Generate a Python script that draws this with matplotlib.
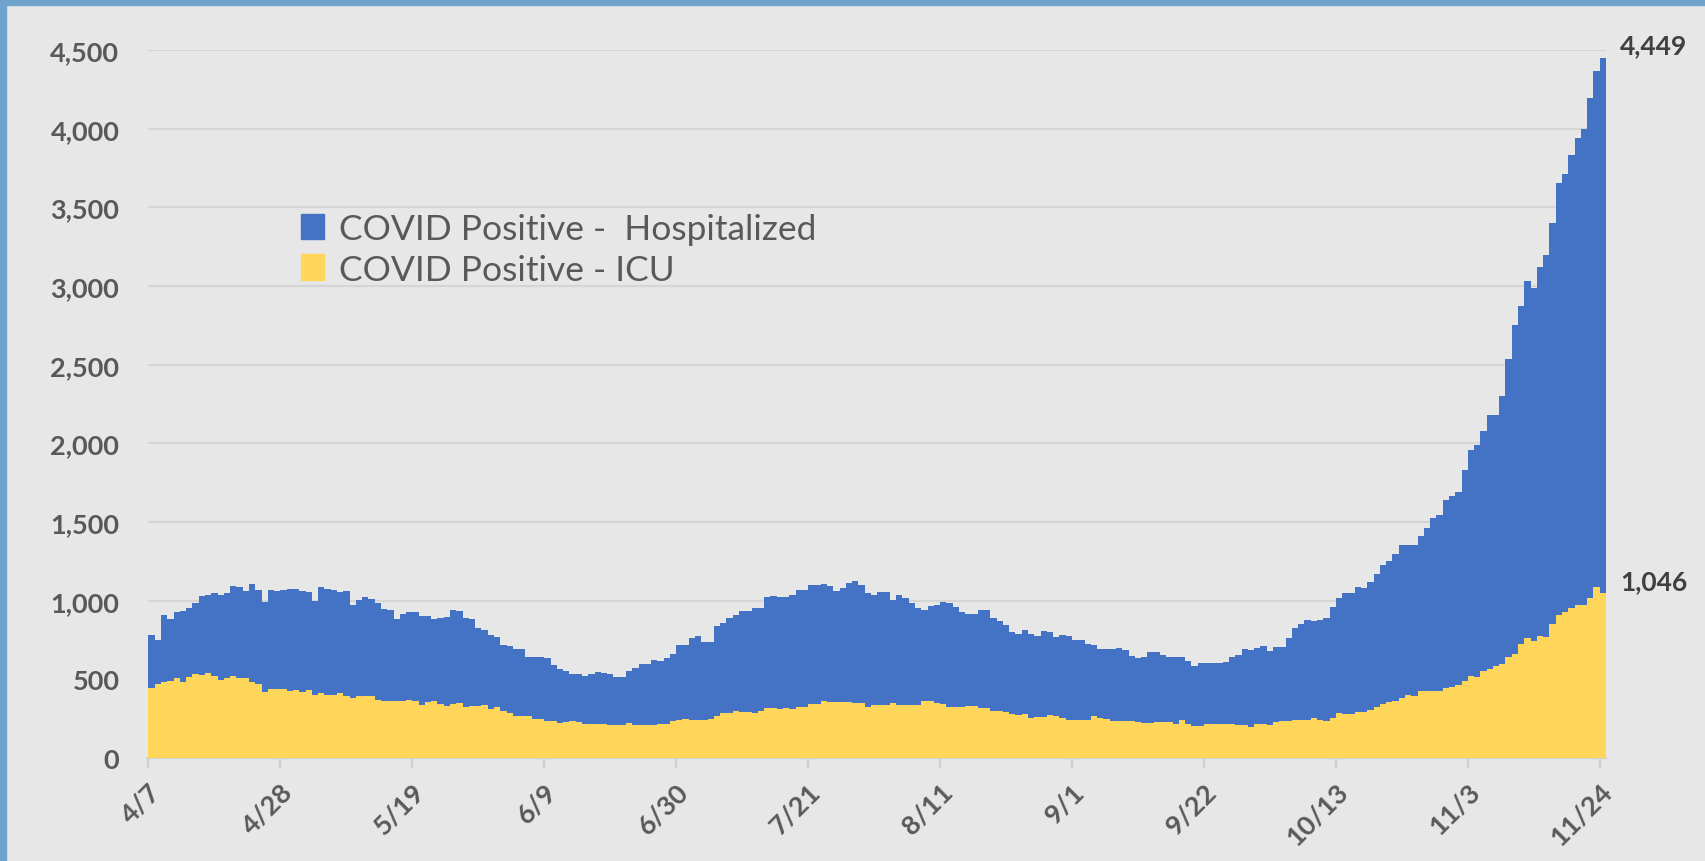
import matplotlib.pyplot as plt
from matplotlib.patches import Patch, Rectangle
from matplotlib.ticker import FuncFormatter
import numpy as np

plt.rcParams['font.family'] = ['Lato', 'DejaVu Sans']

# daily values, 4/7 .. 11/24
hospitalized = [
    779, 752, 911, 881, 926, 932, 955, 985, 1030, 1038,
    1049, 1036, 1047, 1091, 1087, 1062, 1106, 1068, 994, 1068,
    1064, 1068, 1072, 1076, 1064, 1053, 996, 1085, 1076, 1070,
    1055, 1059, 972, 1006, 1021, 1008, 985, 949, 940, 881,
    913, 928, 928, 902, 902, 883, 890, 896, 941, 932,
    890, 881, 826, 811, 783, 766, 720, 711, 690, 690,
    643, 639, 645, 635, 592, 563, 554, 533, 533, 520,
    533, 546, 539, 537, 516, 516, 554, 571, 599, 599,
    622, 618, 635, 664, 720, 720, 764, 773, 737, 737,
    839, 858, 892, 911, 932, 932, 955, 955, 1023, 1030,
    1023, 1023, 1034, 1068, 1068, 1100, 1100, 1106, 1093, 1064,
    1081, 1113, 1125, 1102, 1049, 1036, 1053, 1053, 1002, 1038,
    1017, 987, 955, 943, 966, 974, 991, 987, 960, 928,
    913, 913, 938, 938, 892, 871, 847, 800, 786, 811,
    788, 775, 805, 798, 771, 781, 775, 752, 752, 726,
    716, 690, 690, 690, 696, 688, 650, 635, 641, 673,
    673, 652, 639, 639, 643, 618, 584, 601, 601, 601,
    601, 612, 639, 654, 692, 685, 702, 713, 677, 706,
    706, 765, 828, 849, 876, 868, 874, 891, 960, 1017,
    1051, 1046, 1086, 1080, 1116, 1170, 1229, 1252, 1298, 1353,
    1353, 1353, 1412, 1464, 1527, 1542, 1637, 1666, 1689, 1832,
    1958, 1991, 2078, 2177, 2183, 2300, 2534, 2752, 2873, 3032,
    2990, 3123, 3198, 3399, 3654, 3709, 3832, 3942, 3997, 4195,
    4366, 4449,
]
icu = [
    448, 471, 482, 491, 507, 482, 518, 531, 529, 539,
    524, 497, 510, 522, 510, 507, 486, 471, 418, 439,
    439, 439, 429, 431, 418, 431, 403, 416, 403, 403,
    414, 397, 382, 395, 395, 395, 369, 365, 365, 365,
    361, 369, 363, 338, 353, 363, 342, 333, 344, 348,
    325, 329, 329, 340, 312, 325, 301, 287, 265, 265,
    265, 248, 248, 234, 234, 221, 228, 234, 227, 219,
    219, 219, 219, 208, 208, 208, 221, 208, 208, 208,
    208, 214, 214, 236, 244, 251, 242, 242, 242, 251,
    265, 287, 287, 301, 295, 295, 289, 297, 316, 316,
    310, 316, 310, 321, 321, 344, 344, 361, 355, 355,
    355, 355, 348, 348, 323, 336, 340, 340, 348, 340,
    340, 340, 336, 365, 365, 348, 342, 323, 327, 323,
    329, 333, 316, 316, 297, 297, 291, 282, 276, 280,
    253, 259, 259, 272, 268, 257, 244, 244, 244, 244,
    265, 257, 248, 238, 234, 234, 234, 227, 221, 221,
    227, 227, 227, 214, 240, 213, 204, 204, 213, 213,
    213, 213, 219, 211, 211, 198, 213, 213, 210, 230,
    236, 236, 242, 242, 242, 255, 242, 234, 257, 286,
    278, 278, 293, 293, 307, 324, 341, 355, 362, 383,
    398, 395, 423, 429, 427, 427, 444, 454, 467, 488,
    519, 513, 555, 566, 584, 595, 639, 660, 723, 765,
    744, 773, 769, 853, 906, 931, 952, 975, 975, 1017,
    1084, 1046,
]
tick_labels = ['4/7', '4/28', '5/19', '6/9', '6/30', '7/21', '8/11',
               '9/1', '9/22', '10/13', '11/3', '11/24']
tick_step = 21

bg = '#E7E7E7'
blue = '#4472C4'
gold = '#FFD55A'
grey = '#595959'

W, H = 1706, 862
fig = plt.figure(figsize=(W / 100, H / 100), dpi=100, facecolor=bg)
ax = fig.add_axes([148.5 / W, 1 - 759 / H, 1457.5 / W, (759 - 51) / H])
ax.set_facecolor(bg)

x = np.arange(len(hospitalized))
ax.bar(x, hospitalized, width=1.0, align='edge', color=blue, linewidth=0, zorder=2)
ax.bar(x, icu, width=1.0, align='edge', color=gold, linewidth=0, zorder=3)

ax.set_xlim(0, len(x))
ax.set_ylim(0, 4500)
ax.set_yticks(range(0, 4501, 500))
ax.yaxis.set_major_formatter(FuncFormatter(lambda v, p: f'{int(v):,}'))
ax.grid(axis='y', color='#D5D5D5', lw=1.6, zorder=1)
ax.set_axisbelow(True)

ax.set_xticks(np.arange(len(tick_labels)) * tick_step)
ax.set_xticklabels(tick_labels, rotation=45, ha='right', va='top',
                   rotation_mode='anchor')
for s in ['top', 'right', 'left']:
    ax.spines[s].set_visible(False)
ax.spines['bottom'].set_color('#D0D0D0')
ax.spines['bottom'].set_linewidth(1.6)
ax.tick_params(axis='y', length=0, pad=21, labelsize=19.5, labelcolor=grey)
ax.tick_params(axis='x', length=7, width=1.6, color='#D0D0D0', pad=8,
               labelsize=19.5, labelcolor=grey)
for lab in ax.get_xticklabels() + ax.get_yticklabels():
    lab.set_fontweight('bold')

# end-of-series labels
last = len(x) - 1
for val in [hospitalized[last], icu[last]]:
    ax.annotate(f'{val:,}', xy=(last + 1, val), xytext=(10, 9),
                textcoords='offset points', ha='left', va='center',
                fontsize=19, fontweight='bold', color='#404040',
                annotation_clip=False)

handles = [Patch(color=blue), Patch(color=gold)]
ax.legend(handles, ['COVID Positive -  Hospitalized', 'COVID Positive - ICU'],
          loc='upper left', bbox_to_anchor=(0.083, 0.815), frameon=False,
          fontsize=25.5, labelcolor=grey, handlelength=0.65, handleheight=0.75,
          handletextpad=0.4, labelspacing=0.25)

# blue frame on the left and top edges
fig.patches.append(Rectangle((0, 0), 6 / W, 1, transform=fig.transFigure,
                             color='#6FA3CE', zorder=10))
fig.patches.append(Rectangle((0, 1 - 6 / H), 1, 6 / H, transform=fig.transFigure,
                             color='#6FA3CE', zorder=10))

fig.savefig('out.png', dpi=100, facecolor=bg)
